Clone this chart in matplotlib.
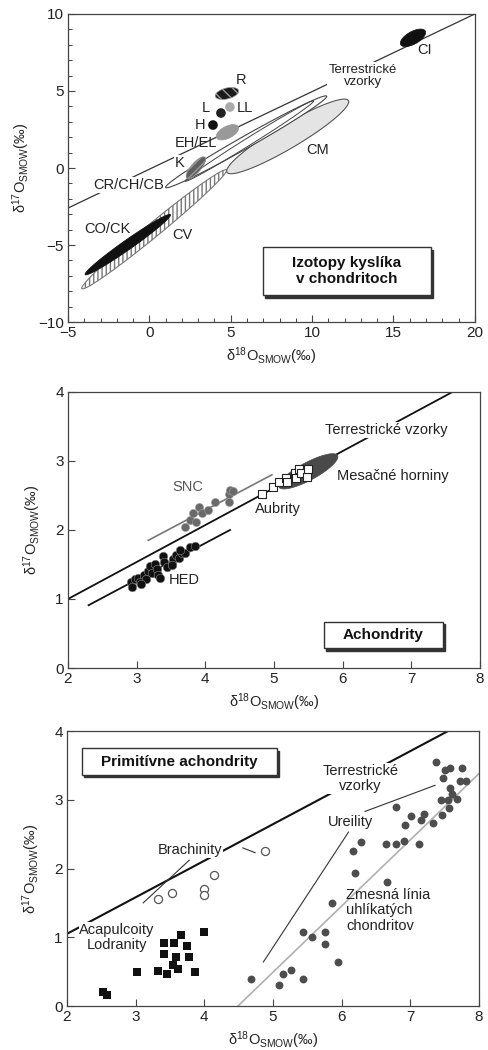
import numpy as np
import matplotlib.pyplot as plt
from matplotlib.ticker import MultipleLocator
from matplotlib.patches import Rectangle

plt.rcParams['font.family'] = ['Liberation Sans', 'DejaVu Sans']
plt.rcParams['mathtext.fontset'] = 'custom'
plt.rcParams['mathtext.rm'] = 'Liberation Sans'
plt.rcParams['mathtext.it'] = 'Liberation Sans:italic'
plt.rcParams['hatch.linewidth'] = 1.0

# ---- panel 1: chondrites ----
tfl1_x = [-5, 20]
tfl1_y = [-2.6, 10]

# ellipse fields: centre, half major axis vector, second axis vector
chon_names = ['CV', 'CO/CK', 'CM', 'CR1', 'CR2', 'K', 'EH/EL', 'R', 'CI']
chon_cx = [0.30, -1.325, 8.5, 5.95, 6.15, 2.86, 4.8, 4.77, 16.2]
chon_cy = [-3.975, -4.975, 2.05, 1.7, 1.75, 0.02, 2.32, 4.84, 8.45]
chon_ax = [4.45, 2.625, 3.75, 4.95, 3.95, 0.55, 0.68, 0.72, 0.75]
chon_ay = [3.825, 1.925, 2.25, 2.95, 2.6, 0.68, 0.32, 0.15, 0.45]
chon_bx = [0.0, 0.0, 0.0, 0.0, 0.0, 0.24, -0.1, 0.0, -0.2]
chon_by = [0.58, 0.38, 0.9, 0.45, 0.28, -0.19, 0.38, 0.36, 0.35]

oc_names = ['H', 'L', 'LL']
oc_x = [3.91, 4.40, 4.95]
oc_y = [2.79, 3.57, 3.96]

# ---- panel 2: achondrites ----
tfl2_x = [2.0, 7.6]
tfl2_y = [1.0, 4.0]
snc_line_x = [3.17, 4.97]
snc_line_y = [1.85, 2.80]
hed_line_x = [2.30, 4.36]
hed_line_y = [0.91, 2.00]

snc_x = [3.70, 3.77, 3.82, 3.86, 3.91, 3.95, 4.04, 4.14, 4.35, 4.36, 4.35, 4.41]
snc_y = [2.04, 2.14, 2.24, 2.12, 2.33, 2.24, 2.29, 2.40, 2.52, 2.58, 2.40, 2.57]

hed_x = [2.92, 2.98, 3.02, 3.05, 3.10, 3.13, 3.17, 3.19, 3.23, 3.27, 3.29, 3.31,
         3.34, 3.39, 3.40, 3.44, 3.51, 3.53, 3.58, 3.61, 3.66, 3.70, 3.78, 3.85,
         2.93, 3.07, 3.52, 3.63]
hed_y = [1.25, 1.29, 1.31, 1.25, 1.35, 1.29, 1.41, 1.48, 1.37, 1.51, 1.43, 1.35,
         1.31, 1.62, 1.54, 1.46, 1.51, 1.58, 1.64, 1.59, 1.66, 1.67, 1.75, 1.77,
         1.18, 1.22, 1.49, 1.71]

aub_x = [4.82, 4.99, 5.08, 5.18, 5.19, 5.31, 5.32, 5.37, 5.40, 5.48, 5.50]
aub_y = [2.52, 2.63, 2.69, 2.76, 2.69, 2.83, 2.75, 2.88, 2.82, 2.77, 2.88]

moon_c = [5.5, 2.85]
moon_a = [0.43, 0.22]
moon_b = [-0.03, 0.13]

# ---- panel 3: primitive achondrites ----
tfl3_x = [2.0, 7.55]
tfl3_y = [1.05, 4.0]
ccam_x = [4.49, 8.0]
ccam_y = [0.0, 3.38]
leaders = [((4.86, 6.10), (0.64, 2.53)),
           ((6.34, 7.36), (2.83, 3.21)),
           ((3.11, 3.78), (1.50, 2.12)),
           ((4.56, 4.74), (2.30, 2.23))]

brach_x = [3.33, 3.53, 3.99, 3.99, 4.14, 4.88]
brach_y = [1.55, 1.64, 1.70, 1.61, 1.90, 2.25]

acap_x = [2.53, 2.58, 3.02, 3.33, 3.45, 3.42, 3.42, 3.56, 3.66, 3.59, 3.54, 3.61,
          3.75, 3.77, 3.87, 4.00]
acap_y = [0.21, 0.16, 0.49, 0.51, 0.46, 0.92, 0.75, 0.91, 1.04, 0.71, 0.60, 0.54,
          0.87, 0.71, 0.49, 1.07]

ure_x = [4.68, 5.09, 5.14, 5.26, 5.44, 5.44, 5.57, 5.76, 5.76, 5.86, 5.95, 6.16,
         6.20, 6.28, 6.66, 6.65, 6.79, 6.79, 6.91, 6.92, 7.01, 7.12, 7.16, 7.20,
         7.33, 7.38, 7.44, 7.46, 7.48, 7.50, 7.58, 7.58, 7.60, 7.55, 7.57, 7.68,
         7.75, 7.72, 7.81]
ure_y = [0.39, 0.30, 0.47, 0.53, 0.39, 1.08, 1.00, 1.08, 0.90, 1.50, 0.64, 2.25,
         1.93, 2.39, 1.81, 2.35, 2.35, 2.89, 2.40, 2.63, 2.76, 2.35, 2.71, 2.80,
         2.66, 3.55, 3.00, 2.78, 3.31, 3.43, 3.46, 3.17, 3.08, 3.00, 2.88, 3.01,
         3.46, 3.27, 3.27]

TXT = '#222222'
xlab = 'δ$^{18}$O$_{\\rm SMOW}$(‰)'
ylab = 'δ$^{17}$O$_{\\rm SMOW}$(‰)'


def blob(ax, c, a, b, **kw):
    t = np.linspace(0, 2 * np.pi, 120)
    x = c[0] + a[0] * np.cos(t) + b[0] * np.sin(t)
    y = c[1] + a[1] * np.cos(t) + b[1] * np.sin(t)
    ax.fill(x, y, **kw)


def label_box(ax, x0, y0, x1, y1, text):
    d = 0.006
    ax.add_patch(Rectangle((x0 + d, y0 - d * 1.5), x1 - x0, y1 - y0, transform=ax.transAxes,
                           fc='#333333', ec='#333333', zorder=8))
    ax.add_patch(Rectangle((x0, y0), x1 - x0, y1 - y0, transform=ax.transAxes,
                           fc='white', ec='#333333', lw=1.0, zorder=9))
    ax.text((x0 + x1) / 2, (y0 + y1) / 2, text, transform=ax.transAxes, ha='center',
            va='center', fontsize=11, fontweight='bold', color='#111111',
            linespacing=1.15, zorder=10)


def style(ax):
    for s in ax.spines.values():
        s.set_color('#444444')
        s.set_linewidth(0.9)
    ax.tick_params(direction='in', length=5, width=0.8, labelsize=11,
                   colors='#444444', labelcolor=TXT, pad=3)
    ax.tick_params(which='minor', direction='in', length=3, width=0.7, colors='#444444')
    ax.set_xlabel(xlab, fontsize=10.5, color=TXT, labelpad=4)
    ax.set_ylabel(ylab, fontsize=10.5, color=TXT, labelpad=9)


fig = plt.figure(figsize=(4.89, 10.5), dpi=100)

# ---------------- panel 1 ----------------
ax1 = fig.add_axes([0.139, 0.6933, 0.832, 0.2934])
ax1.plot(tfl1_x, tfl1_y, color='#333333', lw=0.9, zorder=1)

styles = {
    'CV': dict(fc='white', ec='#777777', hatch='||||', lw=0.8),
    'CO/CK': dict(fc='#111111', ec='#111111', lw=0.6),
    'CM': dict(fc='#e4e4e4', ec='#555555', lw=0.8),
    'CR1': dict(fc='white', ec='#444444', lw=0.8),
    'CR2': dict(fc='none', ec='#444444', lw=0.7),
    'K': dict(fc='#5e5e5e', ec='#999999', hatch='////', lw=0.5),
    'EH/EL': dict(fc='#999999', ec='#999999', lw=0.5),
    'R': dict(fc='#1a1a1a', ec='#999999', hatch='\\\\\\', lw=0.5),
    'CI': dict(fc='#111111', ec='#111111', lw=0.5),
}
for i, n in enumerate(chon_names):
    blob(ax1, (chon_cx[i], chon_cy[i]), (chon_ax[i], chon_ay[i]), (chon_bx[i], chon_by[i]),
         zorder=2 + i * 0.1, **styles[n])

oc_col = ['#111111', '#222222', '#aaaaaa']
ax1.scatter(oc_x, oc_y, s=48, c=oc_col, zorder=4, linewidths=0)

wb = dict(fc='white', ec='none', pad=0.5)
fs = 10.5
ax1.text(5.62, 5.71, 'R', fontsize=fs, color=TXT, ha='center', va='center')
ax1.text(5.39, 3.9, 'LL', fontsize=fs, color=TXT, ha='left', va='center')
ax1.text(3.5, 3.9, 'L', fontsize=fs, color=TXT, ha='center', va='center')
ax1.text(3.1, 2.79, 'H', fontsize=fs, color=TXT, ha='center', va='center')
ax1.text(2.86, 1.62, 'EH/EL', fontsize=fs, color=TXT, ha='center', va='center')
ax1.text(1.88, 0.32, 'K', fontsize=fs, color=TXT, ha='center', va='center', bbox=wb, zorder=3)
ax1.text(0.9, -1.1, 'CR/CH/CB', fontsize=fs, color=TXT, ha='right', va='center', bbox=wb, zorder=3)
ax1.text(10.37, 1.17, 'CM', fontsize=fs, color=TXT, ha='center', va='center')
ax1.text(-2.6, -3.96, 'CO/CK', fontsize=fs, color=TXT, ha='center', va='center')
ax1.text(2.0, -4.35, 'CV', fontsize=fs, color=TXT, ha='center', va='center')
ax1.text(16.93, 7.66, 'CI', fontsize=fs, color=TXT, ha='center', va='center')
ax1.text(13.12, 5.97, 'Terrestrické\nvzorky', fontsize=9.5, color=TXT, ha='center',
         va='center', linespacing=1.1, bbox=dict(fc='white', ec='none', pad=1), zorder=3)

ax1.set_xlim(-5, 20)
ax1.set_ylim(-10, 10)
ax1.set_xticks([-5, 0, 5, 10, 15, 20])
ax1.set_yticks([-10, -5, 0, 5, 10])
ax1.xaxis.set_minor_locator(MultipleLocator(1))
ax1.yaxis.set_minor_locator(MultipleLocator(1))
style(ax1)
ax1.set_ylabel(ylab, fontsize=10.5, color=TXT, labelpad=4)
label_box(ax1, 0.479, 0.088, 0.892, 0.244, 'Izotopy kyslíka\nv chondritoch')

# ---------------- panel 2 ----------------
ax2 = fig.add_axes([0.139, 0.3638, 0.8425, 0.2629])
ax2.plot(tfl2_x, tfl2_y, color='#111111', lw=1.3, zorder=1)
ax2.plot(snc_line_x, snc_line_y, color='#777777', lw=1.2, zorder=1)
ax2.plot(hed_line_x, hed_line_y, color='#111111', lw=1.3, zorder=1)
blob(ax2, moon_c, moon_a, moon_b, fc='#4a4a4a', ec='#4a4a4a', lw=0.5, zorder=2)
ax2.scatter(snc_x, snc_y, s=34, c='#6a6a6a', edgecolors='#9a9a9a', linewidths=0.4, zorder=3)
ax2.scatter(hed_x, hed_y, s=38, c='#111111', edgecolors='#888888', linewidths=0.4, zorder=3)
ax2.scatter(aub_x, aub_y, s=28, marker='s', c='white', edgecolors='#222222',
            linewidths=0.8, zorder=4)

fs2 = 10.5
ax2.text(6.63, 3.45, 'Terrestrické vzorky', fontsize=fs2, color=TXT, ha='center',
         va='center', bbox=dict(fc='white', ec='none', pad=0.5), zorder=2)
ax2.text(6.73, 2.78, 'Mesačné horniny', fontsize=fs2, color=TXT, ha='center', va='center')
ax2.text(3.75, 2.63, 'SNC', fontsize=fs2, color='#555555', ha='center', va='center')
ax2.text(5.06, 2.30, 'Aubrity', fontsize=fs2, color=TXT, ha='center', va='center')
ax2.text(3.70, 1.27, 'HED', fontsize=fs2, color=TXT, ha='center', va='center')

ax2.set_xlim(2, 8)
ax2.set_ylim(0, 4)
ax2.set_xticks(range(2, 9))
ax2.set_yticks(range(0, 5))
style(ax2)
label_box(ax2, 0.621, 0.072, 0.910, 0.167, 'Achondrity')

# ---------------- panel 3 ----------------
ax3 = fig.add_axes([0.137, 0.0419, 0.8425, 0.2619])
ax3.plot(tfl3_x, tfl3_y, color='#111111', lw=1.5, zorder=1)
ax3.plot(ccam_x, ccam_y, color='#b0b0b0', lw=1.2, zorder=1)
for lx, ly in leaders:
    ax3.plot(lx, ly, color='#333333', lw=0.8, zorder=1)

ax3.scatter(ure_x, ure_y, s=32, c='#4d4d4d', linewidths=0, zorder=3)
ax3.scatter(acap_x, acap_y, s=30, marker='s', c='#111111', linewidths=0, zorder=3)
ax3.scatter(brach_x, brach_y, s=34, facecolors='white', edgecolors='#555555',
            linewidths=0.9, zorder=3)

wb3 = dict(fc='white', ec='none', pad=0.5)
ax3.text(6.27, 3.31, 'Terrestrické\nvzorky', fontsize=fs2, color=TXT, ha='center',
         va='center', linespacing=1.1, bbox=wb3, zorder=2)
ax3.text(6.13, 2.68, 'Ureility', fontsize=fs2, color=TXT, ha='center', va='center',
         bbox=wb3, zorder=2)
ax3.text(3.79, 2.27, 'Brachinity', fontsize=fs2, color=TXT, ha='center', va='center',
         bbox=wb3, zorder=2)
ax3.text(2.73, 1.0, 'Acapulcoity\nLodranity', fontsize=fs2, color=TXT, ha='center',
         va='center', linespacing=1.1, bbox=wb3, zorder=2)
ax3.text(6.07, 1.39, 'Zmesná línia\nuhlíkatých\nchondritov', fontsize=fs2, color=TXT,
         ha='left', va='center', linespacing=1.1)

ax3.set_xlim(2, 8)
ax3.set_ylim(0, 4)
ax3.set_xticks(range(2, 9))
ax3.set_yticks(range(0, 5))
style(ax3)
label_box(ax3, 0.036, 0.84, 0.509, 0.937, 'Primitívne achondrity')

fig.savefig('out.png', dpi=100)
